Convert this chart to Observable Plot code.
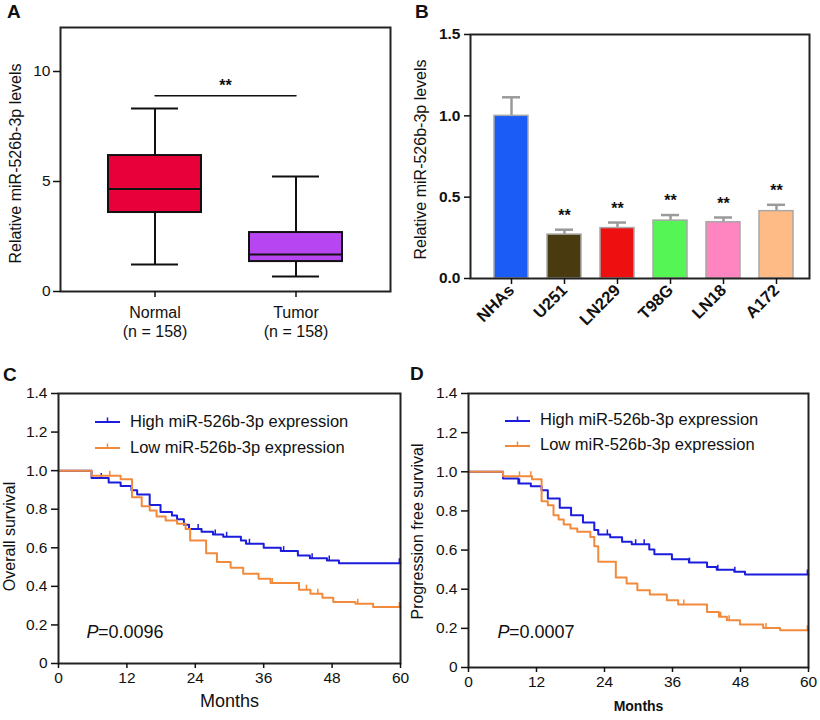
<!DOCTYPE html>
<html><head><meta charset="utf-8">
<script src="https://cdn.jsdelivr.net/npm/d3@7"></script>
<script src="https://cdn.jsdelivr.net/npm/@observablehq/plot@0.6"></script>
<style>
body{margin:0;background:#fff;}
#fig{position:relative;width:820px;height:720px;font-family:"Liberation Sans",Arial,sans-serif;overflow:hidden;background:#fff;color:#111}
#fig > svg{position:absolute}
.letter{position:absolute;font-weight:bold;font-size:19px;line-height:1}
.legend{position:absolute;font-size:16.5px;color:#111}
.legend .row{display:flex;align-items:center;white-space:nowrap}
#fig .legend svg{position:static;margin-right:10px;flex:none}
</style></head><body><div id="fig"></div>
<script>
// ---------- Panel A data ----------
const groupsA = ["Normal", "Tumor"];
const nA = [158, 158];
const minA = [1.23, 0.68];
const q1A = [3.59, 1.36];
const medA = [4.66, 1.68];
const q3A = [6.18, 2.68];
const maxA = [8.32, 5.23];
const colorsA = ["#e8003a", "#b845f2"];
const sigFrom = "Normal", sigTo = "Tumor", sigY = 8.9, sigLabel = "**";
const yTicksA = [0, 5, 10];
const ylabelA = "Relative miR-526b-3p levels";

// ---------- Panel B data ----------
const cellsB = ["NHAs", "U251", "LN229", "T98G", "LN18", "A172"];
const meanB = [1.0, 0.27, 0.31, 0.356, 0.346, 0.414];
const errB = [0.114, 0.03, 0.034, 0.034, 0.029, 0.039];
const starsB = ["", "**", "**", "**", "**", "**"];
const colorsB = ["#1a5cf5", "#4a3a10", "#ee1010", "#55f555", "#ff85c0", "#ffbb85"];
const yTicksB = [0, 0.5, 1.0, 1.5];
const ylabelB = "Relative miR-526b-3p levels";

// ---------- Panels C/D data ----------
const monthTicks = [0, 12, 24, 36, 48, 60];
const survTicks = [0, 0.2, 0.4, 0.6, 0.8, 1.0, 1.2, 1.4];
const seriesNames = ["High miR-526b-3p expression", "Low miR-526b-3p expression"];
const seriesColors = ["#1c1cdc", "#f28a3c"];

const osHighT = [0, 5.8, 8.8, 10.9, 12.8, 13.8, 16, 17.9, 19.9, 20.8, 22, 22.9, 25.1, 27.1, 28.9, 32, 32.9, 36, 39, 42, 44.1, 47.1, 49.2, 60];
const osHighS = [1, 0.962, 0.938, 0.921, 0.898, 0.876, 0.822, 0.786, 0.767, 0.748, 0.72, 0.698, 0.683, 0.669, 0.657, 0.638, 0.621, 0.6, 0.583, 0.56, 0.546, 0.534, 0.52, 0.52];
const osHighCens = [7.5, 24.5, 27.5, 29.5, 33.5, 39.5, 44.5, 47.5, 59.8];
const osLowT = [0, 5.8, 10.9, 12.9, 14.6, 16, 17.2, 18.8, 20.8, 22.3, 23.1, 25.9, 27.8, 30.2, 32.4, 35.1, 37.2, 42.2, 44.2, 46.3, 48.2, 52.1, 55.2, 60];
const osLowS = [1, 0.974, 0.955, 0.862, 0.815, 0.793, 0.762, 0.741, 0.724, 0.698, 0.638, 0.572, 0.526, 0.497, 0.466, 0.44, 0.417, 0.383, 0.362, 0.341, 0.319, 0.31, 0.293, 0.293];
const osLowCens = [9, 37.5, 43.5, 45.5, 52.5, 59.8];
const ylabelC = "Overall survival";
const pC = "=0.0096";

const pfsHighT = [0, 6.1, 8.8, 11, 12.9, 14, 16.1, 18.1, 20.2, 22.2, 22.9, 25, 27.1, 28.8, 31.9, 32.8, 35.9, 38.9, 42.1, 43.8, 46.9, 48.8, 60];
const pfsHighS = [1, 0.966, 0.94, 0.926, 0.906, 0.863, 0.816, 0.778, 0.741, 0.702, 0.68, 0.666, 0.642, 0.63, 0.603, 0.579, 0.553, 0.536, 0.514, 0.5, 0.489, 0.475, 0.475];
const pfsHighCens = [9, 24.5, 29.5, 31, 39, 44, 47, 59.8];
const pfsLowT = [0, 6.1, 11.2, 12.9, 14, 15, 15.9, 16.8, 18, 19.2, 21.5, 22.2, 22.9, 26, 27.9, 29.8, 32, 35, 37, 42.1, 44.2, 45.6, 47.9, 52, 55, 60];
const pfsLowS = [1, 0.977, 0.962, 0.85, 0.829, 0.778, 0.756, 0.731, 0.71, 0.693, 0.667, 0.62, 0.54, 0.46, 0.429, 0.395, 0.373, 0.344, 0.322, 0.284, 0.259, 0.242, 0.22, 0.202, 0.19, 0.19];
const pfsLowCens = [9, 11, 38, 44.5, 46, 52.5, 59.8];
const ylabelD = "Progression free survival";
const pD = "=0.0007";

const FONT = '"Liberation Sans", Arial, sans-serif';
const INK = "#111";
const fig = document.getElementById("fig");

function place(svg, left, top) {
  svg.style.left = left + "px";
  svg.style.top = top + "px";
  svg.style.maxWidth = "none";
  fig.appendChild(svg);
}
function letter(t, left, top) {
  const d = document.createElement("div");
  d.className = "letter"; d.textContent = t;
  d.style.left = left + "px"; d.style.top = top + "px";
  fig.appendChild(d);
}

// ---------- Panel A ----------
const boxData = groupsA.map((g, i) => ({group: g, n: nA[i], min: minA[i], q1: q1A[i], med: medA[i], q3: q3A[i], max: maxA[i], color: colorsA[i]}));
const plotA = Plot.plot({
  width: 410, height: 345, marginLeft: 60, marginRight: 20, marginTop: 27, marginBottom: 54,
  style: {fontFamily: FONT, fontSize: "15px", color: INK, background: "transparent", overflow: "visible"},
  x: {domain: groupsA, padding: 0.34},
  y: {domain: [0, 12]},
  color: {type: "identity"},
  marks: [
    Plot.ruleX(boxData, {x: "group", y1: "q3", y2: "max", stroke: INK, strokeWidth: 2}),
    Plot.ruleX(boxData, {x: "group", y1: "min", y2: "q1", stroke: INK, strokeWidth: 2}),
    Plot.tickY(boxData, {x: "group", y: "max", insetLeft: 23, insetRight: 23, stroke: INK, strokeWidth: 2}),
    Plot.tickY(boxData, {x: "group", y: "min", insetLeft: 23, insetRight: 23, stroke: INK, strokeWidth: 2}),
    Plot.barY(boxData, {x: "group", y1: "q1", y2: "q3", fill: "color", stroke: INK, strokeWidth: 2}),
    Plot.tickY(boxData, {x: "group", y: "med", stroke: INK, strokeWidth: 2}),
    Plot.line([{g: sigFrom, y: sigY}, {g: sigTo, y: sigY}], {x: "g", y: "y", stroke: INK, strokeWidth: 1.5}),
    Plot.text([sigLabel], {y: [sigY], text: d => d, dy: -10, fontSize: 16, fontWeight: "bold", fill: INK}),
    Plot.frame({stroke: "#222", strokeWidth: 2}),
    Plot.axisY({ticks: yTicksA, tickSize: 7, tickPadding: 3, label: null, fontSize: 15.5, strokeWidth: 1.5}),
    Plot.axisX({tickSize: 6, tickFormat: () => "", label: null, strokeWidth: 1.5}),
    Plot.text(boxData, {x: "group", frameAnchor: "bottom", dy: 13, lineAnchor: "top", lineHeight: 1.2,
      text: d => `${d.group}\n(n = ${d.n})`, fontSize: 16, fill: INK}),
    Plot.text([ylabelA], {text: d => d, frameAnchor: "left", textAnchor: "middle", dx: -45, dy: 4, rotate: -90, fontSize: 16, fill: INK})
  ]
});
place(plotA, 0, 0);
letter("A", 7, 2);

// ---------- Panel B ----------
const barData = cellsB.map((c, i) => ({cell: c, mean: meanB[i], top: meanB[i] + errB[i], star: starsB[i], color: colorsB[i]}));
const plotB = Plot.plot({
  width: 410, height: 345, marginLeft: 60, marginRight: 11, marginTop: 34, marginBottom: 67,
  style: {fontFamily: FONT, fontSize: "15px", color: INK, background: "transparent", overflow: "visible"},
  x: {domain: cellsB, padding: 0.36, align: 0.59},
  y: {domain: [0, 1.5]},
  color: {type: "identity"},
  marks: [
    Plot.ruleX(barData, {x: "cell", y1: "mean", y2: "top", stroke: "#9a9a9a", strokeWidth: 2.5}),
    Plot.tickY(barData, {x: "cell", y: "top", insetLeft: 8, insetRight: 8, stroke: "#9a9a9a", strokeWidth: 2.5}),
    Plot.barY(barData, {x: "cell", y: "mean", fill: "color", stroke: "#a8a8a8", strokeWidth: 1.5}),
    Plot.text(barData, {x: "cell", y: "top", text: "star", dy: -14, fontSize: 16, fontWeight: "bold", fill: INK}),
    Plot.frame({stroke: "#222", strokeWidth: 2}),
    Plot.axisY({ticks: yTicksB, tickFormat: d3.format(".1f"), tickSize: 6, tickPadding: 4, label: null, fontSize: 15.5, fontWeight: "bold", strokeWidth: 1.5}),
    Plot.axisX({tickSize: 6, tickRotate: -45, tickPadding: 3, label: null, fontSize: 16.5, fontWeight: "bold", strokeWidth: 1.5}),
    Plot.text([ylabelB], {text: d => d, frameAnchor: "left", textAnchor: "middle", dx: -50, dy: 3, rotate: -90, fontSize: 16, fill: INK})
  ]
});
place(plotB, 410, 0);
letter("B", 415, 2);

// ---------- Panels C / D ----------
const tickUp = {draw(ctx, size) { ctx.moveTo(0, 0); ctx.lineTo(0, -5); }};
function survAt(T, S, t) { let v = S[0]; for (let i = 0; i < T.length; i++) if (T[i] <= t) v = S[i]; return v; }
function curve(T, S) { return T.map((t, i) => ({t, s: S[i]})); }
function cens(T, S, C) { return C.map(t => ({t, s: survAt(T, S, t)})); }

function survPlot(o) {
  const series = [[o.hT, o.hS, o.hC], [o.lT, o.lS, o.lC]];
  const marks = [];
  series.forEach(([T, S, C], k) => {
    marks.push(Plot.line(curve(T, S), {x: "t", y: "s", curve: "step-after", stroke: seriesColors[k], strokeWidth: 2}));
    marks.push(Plot.dot(cens(T, S, C), {x: "t", y: "s", symbol: tickUp, r: 3, stroke: seriesColors[k], strokeWidth: 1.5, fill: "none"}));
  });
  return Plot.plot({
    width: 410, height: 375, marginLeft: o.ml, marginRight: o.mr, marginTop: o.mt, marginBottom: o.mb,
    style: {fontFamily: FONT, fontSize: "15px", color: INK, background: "transparent", overflow: "visible"},
    x: {domain: [0, 60]},
    y: {domain: [0, 1.4]},
    marks: [
      ...marks,
      Plot.frame({stroke: "#222", strokeWidth: 2}),
      Plot.axisX({ticks: monthTicks, tickSize: 5, tickPadding: 3, label: null, fontSize: 15.5, strokeWidth: 1.5}),
      Plot.axisY({ticks: survTicks, tickFormat: d => d === 0 ? "0" : d.toFixed(1), tickSize: 7, tickPadding: 4, label: null, fontSize: 15.5, strokeWidth: 1.5}),
      Plot.text(["Months"], {text: d => d, frameAnchor: "bottom", dy: o.monthsDy, fontSize: o.monthsSize, fontWeight: o.monthsWeight, fill: INK}),
      Plot.text([o.ylabel], {text: d => d, frameAnchor: "left", textAnchor: "middle", dx: o.ylDx, dy: o.ylDy, rotate: -90, fontSize: 16, fill: INK}),
      Plot.text(["P"], {text: d => d, frameAnchor: "bottom-left", dx: o.pDx, dy: o.pDy, textAnchor: "start", fontSize: 18, fontStyle: "italic", fill: INK}),
      Plot.text([o.p], {text: d => d, frameAnchor: "bottom-left", dx: o.pDx + 11.5, dy: o.pDy, textAnchor: "start", fontSize: 18, fill: INK})
    ]
  });
}
function legend(left, top, rowH) {
  const box = document.createElement("div");
  box.className = "legend";
  box.style.left = left + "px"; box.style.top = top + "px";
  seriesNames.forEach((name, k) => {
    const row = document.createElement("div");
    row.className = "row"; row.style.height = rowH + "px";
    const ns = "http://www.w3.org/2000/svg";
    const s = document.createElementNS(ns, "svg");
    s.setAttribute("width", 25); s.setAttribute("height", 10);
    s.innerHTML = `<line x1="0" x2="25" y1="6" y2="6" stroke="${seriesColors[k]}" stroke-width="2"/>` +
                  `<line x1="12.5" x2="12.5" y1="6" y2="1.5" stroke="${seriesColors[k]}" stroke-width="1.5"/>`;
    const sp = document.createElement("span"); sp.textContent = name;
    row.appendChild(s); row.appendChild(sp);
    box.appendChild(row);
  });
  fig.appendChild(box);
}

const plotC = survPlot({hT: osHighT, hS: osHighS, hC: osHighCens, lT: osLowT, lS: osLowS, lC: osLowCens,
  ml: 58, mr: 10, mt: 48, mb: 57, ylabel: ylabelC, ylDx: -49, ylDy: 8, p: pC, pDx: 28, pDy: -26,
  monthsDy: 43, monthsSize: 18, monthsWeight: "normal"});
place(plotC, 0, 345);
letter("C", 3, 365);
legend(95, 408, 26);

const plotD = survPlot({hT: pfsHighT, hS: pfsHighS, hC: pfsHighCens, lT: pfsLowT, lS: pfsLowS, lC: pfsLowCens,
  ml: 58, mr: 12, mt: 48, mb: 53, ylabel: ylabelD, ylDx: -51, ylDy: 1, p: pD, pDx: 29, pDy: -30,
  monthsDy: 43, monthsSize: 14, monthsWeight: "bold"});
place(plotD, 410, 345);
letter("D", 410, 364);
legend(505, 407, 25);
</script></body></html>
